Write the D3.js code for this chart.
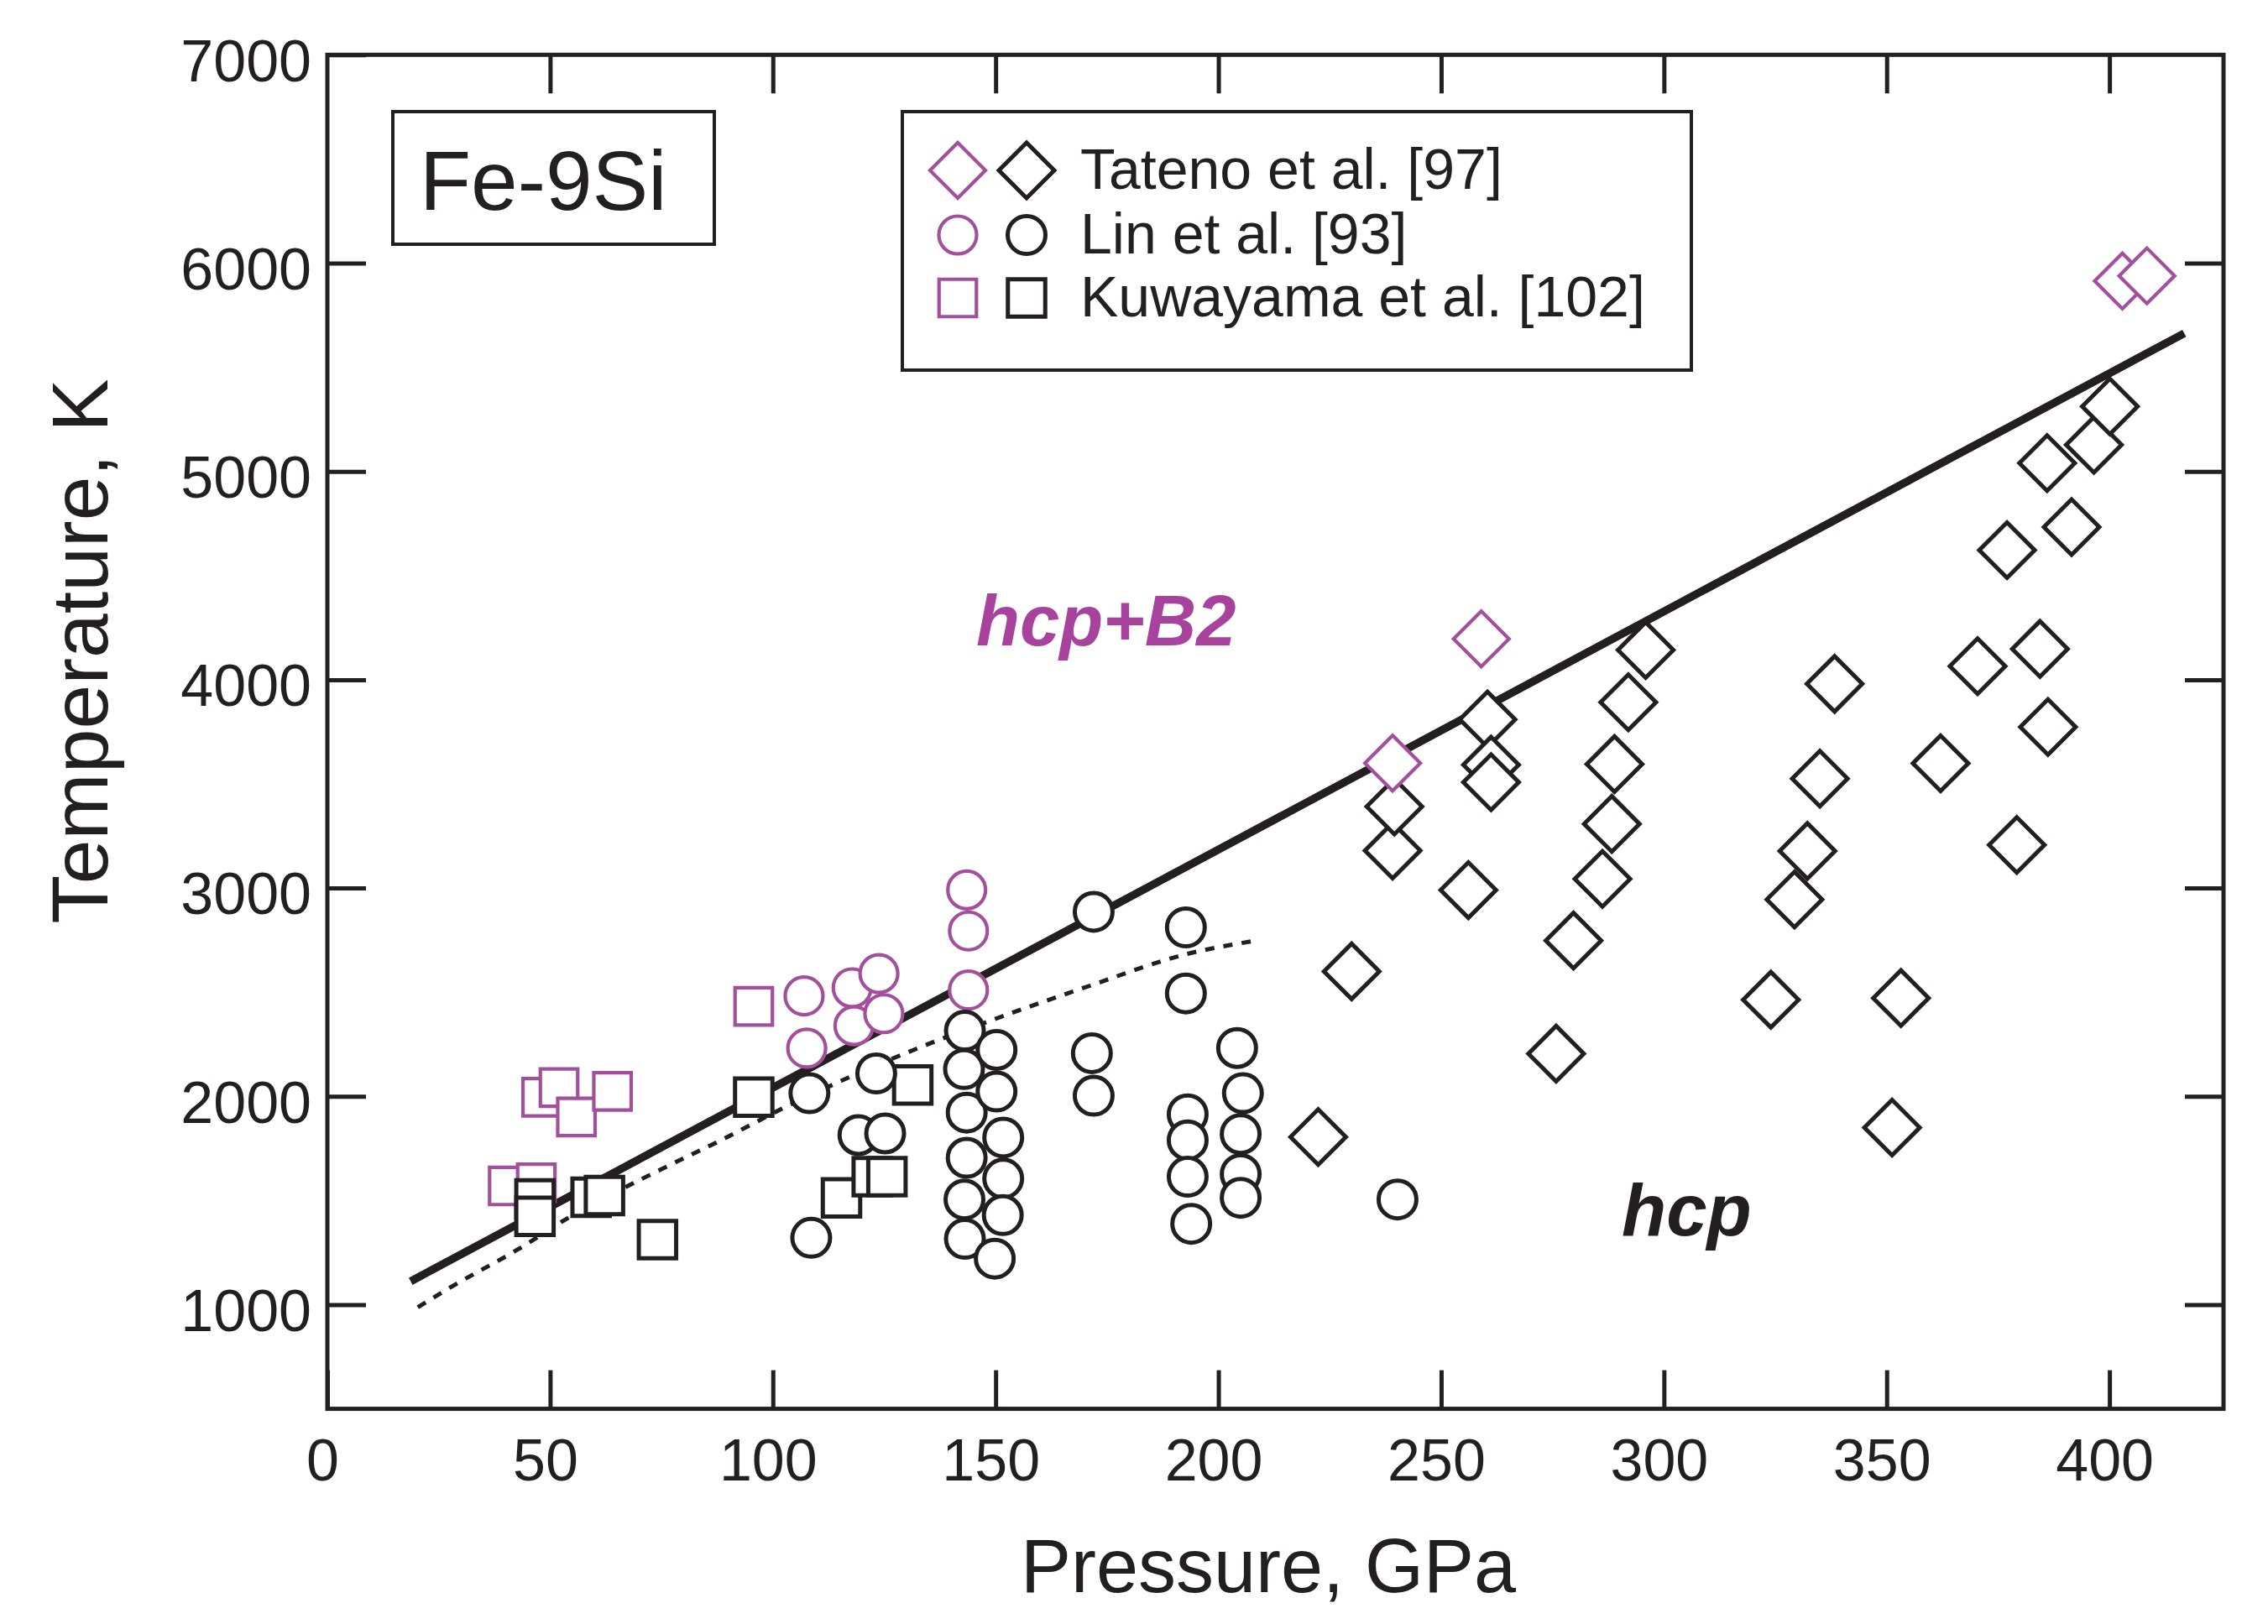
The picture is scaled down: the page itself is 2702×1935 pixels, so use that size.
<!DOCTYPE html>
<html>
<head>
<meta charset="utf-8">
<script src="https://cdn.jsdelivr.net/npm/d3@7"></script>
<style>
  html, body { margin: 0; padding: 0; background: #ffffff; }
  svg { display: block; font-family: "Liberation Sans", Arial, sans-serif; }
</style>
</head>
<body>
<svg id="chart" width="2702" height="1935"></svg>
<script>
// ---------------- data (Pressure GPa, Temperature K) ----------------
const xTicks = [0, 50, 100, 150, 200, 250, 300, 350, 400];
const yTicks = [1000, 2000, 3000, 4000, 5000, 6000, 7000];

// Tateno et al. [97]
const tatenoB2 = [[239.1, 3600], [259.0, 4196], [402.9, 5914], [408.4, 5939]];
const tatenoHcp = [
  [222.4, 1805], [229.9, 2600], [239.1, 3180], [239.5, 3391], [256.1, 2990],
  [260.4, 3809], [261.2, 3592], [261.2, 3508], [275.8, 2205], [279.7, 2748],
  [286.2, 3044], [288.3, 3308], [288.9, 3595], [292.0, 3892], [295.9, 4143],
  [324.0, 2464], [329.3, 2945], [332.2, 3178], [335.0, 3525], [338.3, 3980],
  [351.2, 1850], [353.2, 2472], [362.1, 3599], [370.4, 4065], [377.0, 4622],
  [379.2, 3207], [384.4, 4148], [386.2, 3773], [386.0, 5040], [391.5, 4733],
  [396.5, 5128], [400.1, 5312]
];

// Lin et al. [93]
const linB2 = [
  [107.0, 2482], [107.6, 2231], [117.8, 2521], [123.8, 2589], [118.2, 2339],
  [124.9, 2397], [143.5, 2991], [143.9, 2794], [143.9, 2510]
];
const linHcp = [
  [108.2, 2015], [123.2, 2110], [119.2, 1814], [125.2, 1822], [108.6, 1321],
  [172.0, 2886],
  [143.1, 2315], [142.9, 2131], [143.5, 1922], [143.5, 1705], [143.0, 1505], [143.1, 1316],
  [150.2, 2223], [150.2, 2023], [151.7, 1802], [151.7, 1605], [151.6, 1430], [149.8, 1221],
  [171.6, 2207], [172.0, 2003],
  [192.7, 2811], [192.7, 2494], [193.1, 1914], [193.1, 1789], [193.1, 1614], [193.9, 1388],
  [204.2, 2232], [205.5, 2015], [205.0, 1819], [205.0, 1627], [205.0, 1513],
  [240.2, 1505]
];

// Kuwayama et al. [102]
const kuwayamaB2 = [
  [40.6, 1570], [46.9, 1585], [48.1, 1996], [52.0, 2042], [55.9, 1901], [64.0, 2024], [95.7, 2432]
];
const kuwayamaHcp = [
  [46.6, 1508], [46.6, 1424], [59.2, 1516], [62.2, 1524], [74.1, 1312], [95.7, 1996],
  [115.4, 1513], [122.3, 1614], [125.6, 1614], [131.4, 2055]
];

// phase boundaries
const solidBoundary = [[18.7, 1112], [416.8, 5663]];
const dottedBoundary = [
  [20.3, 987], [27.3, 1079], [42.6, 1263], [55.1, 1430], [72.3, 1622], [88.3, 1789],
  [103.5, 1956], [115.2, 2073], [131.6, 2223], [150.2, 2374], [171.3, 2532],
  [192.3, 2680], [209.1, 2750]
];

const legendItems = ["Tateno et al. [97]", "Lin et al. [93]", "Kuwayama et al. [102]"];

// ---------------- drawing ----------------
const MAG = "#a3509c";
const MAG_TEXT = "#a8439d";
const INK = "#231f20";

const svg = d3.select("#chart");
svg.append("rect").attr("width", 2702).attr("height", 1935).attr("fill", "#fff");

const L = 390, R = 2649, T = 65.3, B = 1678.6;
const x = d3.scaleLinear().domain([0, 425.6]).range([L, R]);
const y = d3.scaleLinear().domain([500, 7000]).range([B, T]);

const TICK = 46;
const fmt = d3.format("d");

// axes (ticks inward)
const gB = svg.append("g").attr("transform", `translate(0,${B})`)
  .call(d3.axisBottom(x).tickValues(xTicks).tickSize(-TICK).tickSizeOuter(0).tickPadding(36).tickFormat(fmt));
const gT = svg.append("g").attr("transform", `translate(0,${T})`)
  .call(d3.axisTop(x).tickValues(xTicks.slice(1)).tickSize(-TICK).tickSizeOuter(0).tickFormat(""));
const gL = svg.append("g").attr("transform", `translate(${L},0)`)
  .call(d3.axisLeft(y).tickValues(yTicks).tickSize(-TICK).tickSizeOuter(0).tickPadding(19).tickFormat(fmt));
const gR = svg.append("g").attr("transform", `translate(${R},0)`)
  .call(d3.axisRight(y).tickValues(yTicks.slice(0, -1)).tickSize(-TICK).tickSizeOuter(0).tickFormat(""));

[gB, gT, gL, gR].forEach(g => {
  g.select(".domain").remove();
  g.selectAll(".tick line").attr("stroke", INK).attr("stroke-width", 5);
  g.selectAll(".tick text").attr("fill", INK).attr("font-size", 70)
    .attr("font-family", "'Liberation Sans', Arial, sans-serif");
});
gB.selectAll(".tick text").attr("dx", -6);
gL.selectAll(".tick text").attr("dy", "0.44em");

// frame
svg.append("rect").attr("x", L).attr("y", T).attr("width", R - L).attr("height", B - T)
  .attr("fill", "none").attr("stroke", INK).attr("stroke-width", 5);

// axis titles
svg.append("text").attr("transform", `translate(128,776) rotate(-90)`)
  .attr("text-anchor", "middle").attr("font-size", 95).attr("fill", INK)
  .text("Temperature, K");
svg.append("text").attr("x", 1511).attr("y", 1897)
  .attr("text-anchor", "middle").attr("font-size", 90).attr("fill", INK)
  .text("Pressure, GPa");

// boundaries
const line = d3.line().x(d => x(d[0])).y(d => y(d[1]));
svg.append("path").datum(dottedBoundary)
  .attr("d", line.curve(d3.curveMonotoneX))
  .attr("fill", "none").attr("stroke", INK).attr("stroke-width", 5)
  .attr("stroke-dasharray", "11,11");
svg.append("path").datum(solidBoundary)
  .attr("d", d3.line().x(d => x(d[0])).y(d => y(d[1])))
  .attr("fill", "none").attr("stroke", INK).attr("stroke-width", 9.5);

// markers
const symSquare = d3.symbol(d3.symbolSquare, 1980)();
const symDiamond = d3.symbol(d3.symbolSquare, 2180)();
const symCircle = d3.symbol(d3.symbolCircle, 1590)();

function drawMarkers(data, path, rot, color, sw) {
  svg.append("g").selectAll("path").data(data).join("path")
    .attr("d", path)
    .attr("transform", d => `translate(${x(d[0])},${y(d[1])}) rotate(${rot})`)
    .attr("fill", "#fff").attr("stroke", color).attr("stroke-width", sw);
}
drawMarkers(kuwayamaB2, symSquare, 0, MAG, 4.2);
drawMarkers(kuwayamaHcp, symSquare, 0, INK, 5);
drawMarkers(linB2, symCircle, 0, MAG, 4.2);
drawMarkers(linHcp, symCircle, 0, INK, 5);
drawMarkers(tatenoHcp, symDiamond, 45, INK, 5);
drawMarkers(tatenoB2, symDiamond, 45, MAG, 4.2);

// phase labels
svg.append("text").attr("x", 1163).attr("y", 769)
  .attr("font-size", 85).attr("font-weight", "bold").attr("font-style", "italic")
  .attr("fill", MAG_TEXT).text("hcp+B2");
svg.append("text").attr("x", 1932).attr("y", 1472)
  .attr("font-size", 87).attr("font-weight", "bold").attr("font-style", "italic")
  .attr("fill", INK).text("hcp");

// Fe-9Si box
svg.append("rect").attr("x", 468).attr("y", 133).attr("width", 383).attr("height", 158)
  .attr("fill", "#fff").attr("stroke", INK).attr("stroke-width", 4);
svg.append("text").attr("x", 500).attr("y", 250).attr("font-size", 100).attr("fill", INK)
  .text("Fe-9Si");

// legend
svg.append("rect").attr("x", 1075).attr("y", 133).attr("width", 940).attr("height", 308)
  .attr("fill", "#fff").attr("stroke", INK).attr("stroke-width", 4);
const legendSyms = [[symDiamond, 45], [symCircle, 0], [symSquare, 0]];
const rowY = [203, 280, 355];
legendItems.forEach((label, i) => {
  const [p, r] = legendSyms[i];
  svg.append("path").attr("d", p).attr("transform", `translate(1141,${rowY[i]}) rotate(${r})`)
    .attr("fill", "none").attr("stroke", MAG).attr("stroke-width", 4.2);
  svg.append("path").attr("d", p).attr("transform", `translate(1223,${rowY[i]}) rotate(${r})`)
    .attr("fill", "none").attr("stroke", INK).attr("stroke-width", 5);
  svg.append("text").attr("x", 1287).attr("y", rowY[i] + 22).attr("font-size", 68)
    .attr("fill", INK).text(label);
});
</script>
</body>
</html>
